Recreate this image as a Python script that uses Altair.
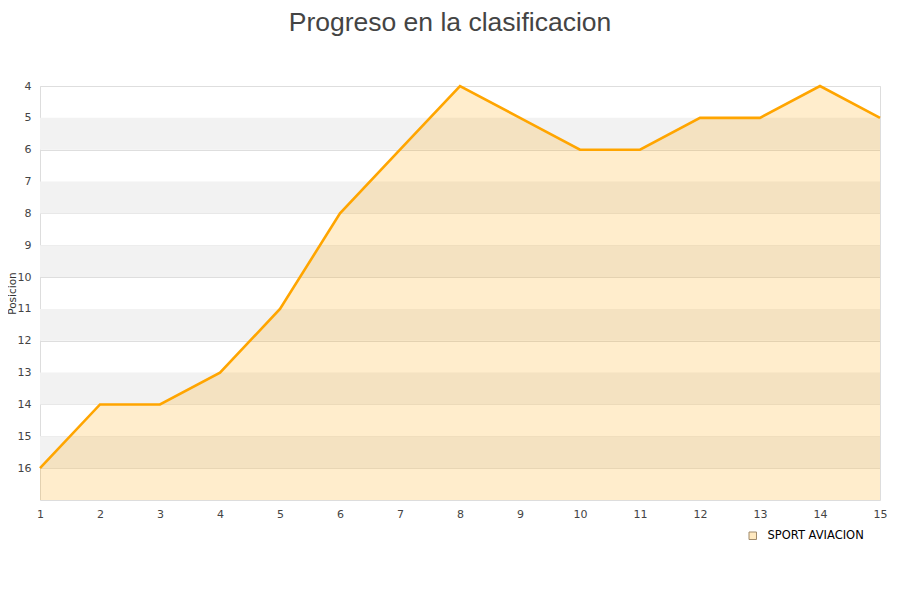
import altair as alt
import pandas as pd

jornadas = list(range(1, 16))
posiciones = [16, 14, 14, 13, 11, 8, 6, 4, 5, 6, 6, 5, 5, 4, 5]
equipo = "SPORT AVIACION"
y_ticks = list(range(4, 17))
band_starts = [5, 7, 9, 11, 13, 15]

df = pd.DataFrame({"jornada": jornadas, "pos": posiciones, "equipo": [equipo] * len(jornadas)})
df["base"] = 17
bands = pd.DataFrame({"y1": band_starts, "y2": [b + 1 for b in band_starts]})

xscale = alt.Scale(domain=[1, 15], nice=False, zero=False)
yscale = alt.Scale(domain=[4, 17], reverse=True, nice=False, zero=False)

x_axis = alt.Axis(values=jornadas, title=None, grid=False, ticks=False,
                  domain=False, labelPadding=8, labelFontSize=11,
                  labelOverlap=False, labelFlush=False, labelBound=False,
                  labelColor="#444444", labelFont="DejaVu Sans", format="d")
y_axis = alt.Axis(values=y_ticks, title="Posicion", grid=True,
                  gridColor="#dedede", ticks=False, domain=False, labelPadding=9,
                  labelFontSize=11, labelOverlap=False, labelFlush=False,
                  labelBound=False, labelColor="#444444", labelFont="DejaVu Sans",
                  titleFont="DejaVu Sans", titleFontSize=10.5, titleFontWeight="normal",
                  titleColor="#333333", titleX=-23, titleY=207, titleAngle=270,
                  titleAlign="center", titleBaseline="bottom", format="d")

band_layer = alt.Chart(bands).mark_rect(color="#f2f2f2").encode(
    y=alt.Y("y1:Q", scale=yscale, axis=y_axis, title="Posicion"),
    y2="y2:Q",
    x=alt.value(0),
    x2=alt.value(840),
)

area = alt.Chart(df).mark_area(color="#ffa500", opacity=0.2).encode(
    x=alt.X("jornada:Q", scale=xscale, axis=x_axis),
    y=alt.Y("pos:Q", scale=yscale, axis=y_axis, title="Posicion"),
    y2="base:Q",
)

line = alt.Chart(df).mark_line(color="#ffa500", strokeWidth=2.6).encode(
    x=alt.X("jornada:Q", scale=xscale, axis=x_axis),
    y=alt.Y("pos:Q", scale=yscale, axis=y_axis, title="Posicion"),
)

legend_pts = alt.Chart(df.head(1)).mark_point(shape="square", size=0, opacity=0).encode(
    x=alt.X("jornada:Q", scale=xscale, axis=x_axis),
    y=alt.Y("pos:Q", scale=yscale, axis=y_axis, title="Posicion"),
    fill=alt.Fill("equipo:N",
                  scale=alt.Scale(domain=[equipo], range=["#ffe9c0"]),
                  legend=alt.Legend(title=None, orient="none", legendX=707, legendY=444,
                                    symbolType="square", symbolSize=56,
                                    symbolStrokeColor="#a08a6a", symbolStrokeWidth=1,
                                    symbolOpacity=1, labelFontSize=11.5, labelColor="#000000",
                                    labelOffset=9, labelFont="DejaVu Sans")),
)

chart = alt.layer(band_layer, area, line, legend_pts).properties(
    width=840,
    height=414,
    title=alt.TitleParams("Progreso en la clasificacion", fontSize=26.5, font="Liberation Sans",
                          fontWeight="normal", color="#444444", anchor="middle", offset=44, dx=-10),
    autosize=alt.AutoSizeParams(type="none"),
    padding={"left": 32, "top": 78, "right": 12, "bottom": 80},
).configure_view(stroke="#dddddd", strokeWidth=1)

chart.save("out.html", embed_options={"renderer": "svg", "actions": False})
